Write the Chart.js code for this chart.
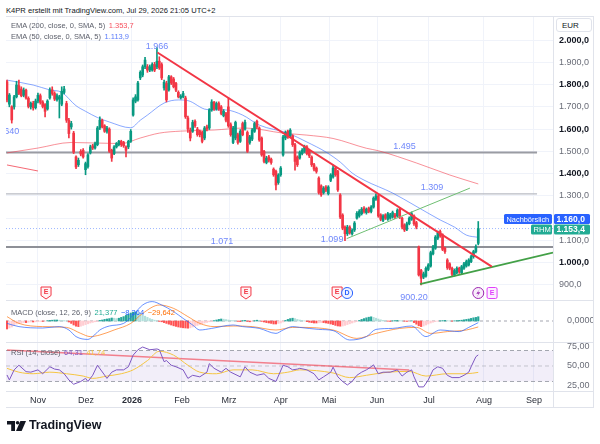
<!DOCTYPE html>
<html><head><meta charset="utf-8">
<script src="https://cdn.jsdelivr.net/npm/chart.js@4.4.1/dist/chart.umd.min.js"></script>
<style>
html,body{margin:0;padding:0;background:#fff;}
body{width:600px;height:444px;position:relative;overflow:hidden;font-family:"Liberation Sans",Arial,sans-serif;color:#131722;}
.a{position:absolute;white-space:nowrap;z-index:5;}
canvas{position:absolute;}
.ln{position:absolute;background:#e0e3eb;z-index:6;}
.lg{position:absolute;white-space:nowrap;z-index:5;font-size:7.5px;color:#5d606b;left:11px;}
.lg span{margin-left:3.5px;}
</style></head><body>
<div class="a" style="left:6px;top:6px;font-size:7.6px;color:#131722;">K4PR erstellt mit TradingView.com, Jul 29, 2026 21:05 UTC+2</div>
<canvas id="cMain" width="587" height="285" style="left:6px;top:16px;"></canvas>
<canvas id="cMacd" width="587" height="42" style="left:6px;top:301px;"></canvas>
<canvas id="cRsi" width="587" height="65" style="left:6px;top:343px;"></canvas>
<div class="ln" style="left:6px;top:16px;width:588px;height:1px;"></div>
<div class="ln" style="left:6px;top:407px;width:588px;height:1px;"></div>
<div class="ln" style="left:593px;top:16px;width:1px;height:392px;"></div>
<div class="ln" style="left:553px;top:16px;width:1px;height:392px;"></div>
<div class="ln" style="left:6px;top:300px;width:588px;height:1px;"></div>
<div class="ln" style="left:6px;top:342px;width:588px;height:1px;"></div>
<div class="ln" style="left:6px;top:391px;width:588px;height:1px;"></div>
<div class="a" style="left:556px;top:18px;height:14px;border:1px solid #e0e3eb;border-radius:3px;background:#fff;font-size:8px;line-height:14px;padding-left:5px;box-sizing:border-box;width:36px;">EUR</div>
<div class="lg" id="legE200" style="top:21px;"></div>
<div class="lg" id="legE50" style="top:31.5px;"></div>
<div class="lg" id="legMacd" style="top:307.5px;"></div>
<div class="lg" id="legRsi" style="top:348px;"></div>
<svg style="position:absolute;left:7px;top:421px" width="19" height="10" viewBox="0 0 19 10">
<path d="M0 0H8V10H4.2V3.4H0Z" fill="#131722"/>
<circle cx="10.6" cy="1.8" r="1.8" fill="#131722"/>
<path d="M13.4 0H19L14.6 10H9Z" fill="#131722"/>
</svg>
<div class="a" style="left:29px;top:418px;font-size:12.5px;font-weight:bold;color:#131722;letter-spacing:-0.1px;">TradingView</div>
<script>
// ---------------- DATA ----------------
const monthLabels=['Nov','Dez','2026','Feb','Mrz','Apr','Mai','Jun','Jul','Aug','Sep'];
const monthIdx=[13,33.2,52.5,73.5,93.3,115,135.3,155.5,177.3,200.4,221.4];
const priceTicks=[900,1000,1100,1200,1300,1400,1500,1600,1700,1800,1900,2000];

const opens=[
1813,1712,1700,1700,1745,1795,1780,1752,1775,1738,
1700,1716,1696,1726,1750,1722,1710,1690,1740,1776,
1760,1732,1735,1712,1765,1715,1640,1610,1582,1475,
1440,1500,1505,1418,1432,1493,1525,1515,1530,1605,
1640,1615,1590,1600,1505,1490,1520,1530,1545,1540,
1520,1520,1545,1663,1725,1731,1830,1843,1880,1880,
1865,1865,1890,1880,1905,1890,1785,1805,1776,1835,
1825,1805,1765,1740,1745,1740,1650,1596,1590,1635,
1600,1590,1585,1560,1610,1605,1686,1720,1690,1715,
1700,1660,1670,1700,1620,1540,1560,1575,1545,1625,
1600,1585,1540,1555,1590,1635,1605,1560,1500,1450,
1475,1465,1420,1410,1360,1395,1484,1560,1590,1570,
1570,1530,1475,1470,1490,1500,1520,1505,1475,1440,
1425,1380,1345,1315,1340,1310,1370,1385,1425,1410,
1304,1214,1160,1130,1160,1130,1147,1200,1210,1220,
1245,1225,1245,1230,1250,1285,1300,1215,1190,1215,
1195,1200,1205,1215,1210,1240,1200,1170,1150,1175,
1195,1210,1180,1070,965,935,940,970,985,1040,
1065,1110,1140,1125,1065,1012,995,975,945,955,
975,955,975,985,990,1005,1027,1050,1087];
const highs=[
1820,1760,1705,1752,1815,1820,1790,1785,1780,1745,
1722,1725,1735,1762,1758,1728,1715,1732,1785,1790,
1768,1758,1752,1790,1792,1725,1648,1635,1590,1480,
1470,1508,1512,1452,1490,1528,1532,1542,1612,1655,
1645,1620,1612,1606,1510,1526,1540,1550,1550,1545,
1525,1550,1598,1740,1755,1815,1862,1888,1922,1890,
1888,1898,1900,1966,1925,1898,1820,1815,1842,1840,
1832,1810,1772,1755,1770,1748,1658,1605,1640,1642,
1608,1596,1590,1612,1618,1692,1732,1725,1722,1722,
1706,1688,1675,1740,1628,1612,1636,1582,1598,1632,
1640,1592,1572,1602,1632,1640,1610,1565,1505,1478,
1482,1470,1426,1416,1400,1432,1572,1592,1596,1602,
1575,1536,1480,1502,1512,1528,1526,1510,1480,1446,
1430,1386,1350,1342,1346,1346,1400,1439,1430,1415,
1310,1220,1166,1168,1166,1152,1185,1230,1238,1248,
1252,1246,1250,1256,1296,1309,1305,1220,1216,1220,
1226,1222,1232,1222,1242,1246,1205,1175,1182,1206,
1228,1215,1186,1075,970,958,982,996,1052,1078,
1122,1142,1147,1130,1070,1018,1000,980,972,982,
980,988,1002,1012,1018,1034,1056,1080,1185];
const lows=[
1722,1700,1627,1690,1740,1755,1745,1745,1735,1695,
1690,1685,1690,1718,1712,1695,1655,1685,1735,1752,
1728,1725,1650,1705,1758,1630,1560,1600,1490,1422,
1432,1480,1470,1395,1425,1488,1508,1510,1525,1598,
1605,1585,1582,1495,1455,1485,1515,1525,1522,1518,
1475,1512,1540,1658,1718,1725,1822,1835,1872,1855,
1858,1860,1858,1872,1868,1822,1775,1722,1770,1800,
1785,1768,1740,1735,1740,1648,1585,1547,1585,1608,
1568,1565,1538,1552,1592,1598,1680,1684,1685,1684,
1664,1655,1632,1608,1568,1535,1552,1532,1540,1570,
1595,1495,1532,1548,1585,1602,1545,1478,1448,1444,
1452,1442,1388,1327,1352,1388,1478,1552,1558,1562,
1522,1416,1432,1465,1484,1495,1484,1472,1432,1412,
1402,1308,1298,1308,1318,1304,1364,1380,1388,1320,
1198,1148,1099,1122,1128,1124,1140,1195,1204,1214,
1222,1218,1224,1224,1245,1280,1204,1188,1184,1194,
1190,1195,1200,1198,1205,1198,1152,1140,1144,1170,
1190,1168,1152,940,900,928,935,964,980,1035,
1060,1104,1114,1054,1042,970,968,940,940,950,
952,950,970,980,985,1000,1020,1044,1080];
const closes=[
1731,1753,1641,1745,1798,1760,1750,1775,1740,1702,
1716,1696,1726,1752,1720,1702,1680,1726,1776,1760,
1735,1750,1745,1770,1780,1640,1580,1625,1497,1430,
1460,1488,1475,1445,1484,1520,1515,1535,1605,1641,
1610,1590,1605,1500,1470,1520,1535,1545,1530,1525,
1505,1545,1590,1731,1745,1807,1855,1880,1910,1865,
1880,1890,1865,1905,1875,1830,1810,1731,1835,1807,
1790,1775,1745,1748,1760,1655,1600,1560,1630,1615,
1575,1575,1545,1605,1600,1686,1722,1690,1715,1690,
1670,1680,1640,1615,1575,1605,1630,1540,1590,1575,
1630,1500,1565,1596,1625,1610,1551,1484,1455,1470,
1460,1450,1395,1349,1394,1425,1565,1585,1565,1595,
1530,1455,1440,1495,1505,1520,1490,1480,1440,1420,
1410,1315,1305,1335,1325,1340,1394,1425,1395,1327,
1205,1155,1130,1160,1135,1145,1178,1222,1230,1240,
1230,1240,1230,1250,1290,1300,1210,1195,1210,1200,
1220,1215,1225,1205,1235,1205,1160,1147,1175,1200,
1220,1175,1160,945,930,950,975,990,1045,1070,
1115,1135,1120,1060,1050,978,975,948,965,975,
960,982,995,1005,1012,1027,1050,1072,1153.4];
const afterHoursPrice=1160.0;

const ema50Idx=[0,11,18,23,29,33,38,43,52,56,59,66,72,76,84,92,99,106,118,126,134,140,145,150,162,171,177,182,188,193,198];
const ema50Val=[1820,1798,1776,1765,1705,1680,1652,1632,1606,1640,1663,1717,1731,1728,1688,1686,1663,1618,1582,1542,1497,1452,1403,1371,1313,1259,1222,1192,1160,1124,1113.9];
const ema200Idx=[0,13,27,48,56,64,73,87,100,116,126,137,151,156,172,186,198];
const ema200Val=[1493,1515,1540,1535,1560,1582,1591,1596,1605,1582,1573,1558,1514,1503,1448,1394,1353.7];

const levelPrices=[1495,1309,1071];
const redTrendIdx=[63.2,203.7], redTrendVal=[1944,982];
const greenTrendIdx=[173.5,229.4], greenTrendVal=[904,1045];
const thinGreenIdx=[142.7,194.5], thinGreenVal=[1108,1335];
const leftRedIdx=[0,13], leftRedVal=[1439,1412];

const annTexts=['1.966','1.495','1.309','1.071','1.099','900,20','640'];
const annIdx=[63,167,178.6,90.3,136.6,171,2];
const annPrice=[1969,1520,1336,1097,1106,845,1591];

const eventIdx=[16.4,100.4,138.7,142.9,198,203.8];
const eventType=['E','E','E','D','S','F'];

const hist=[-40,-35,-30,-22,
-15,-12,-10,-8,-8,-6,-5,-5,-4,-3,-2,-2,-1,
2,3,4,5,5,4,3,2,1,
-5,-12,-20,-26,-28,-26,-22,-18,-14,-10,-7,-4,-2,
3,5,8,10,12,15,14,12,14,18,22,28,34,40,
44,45,42,36,30,24,18,12,8,4,
1,-2,-4,-8,-12,-16,-20,-24,-27,-30,-32,-34,-35,-36,-34,-30,
-26,-22,-18,-14,-10,-7,-4,-2,2,5,
8,10,9,7,5,3,2,1,
-2,-3,2,3,-2,-4,-3,2,4,3,-2,-5,-8,-10,-12,-15,-15,-12,
-10,-5,3,8,12,14,12,8,
5,3,1,-3,-6,-8,-10,-10,
-9,-8,-8,-10,-12,-15,-18,-22,-25,-26,-25,-22,
-18,-14,-10,-6,-2,3,8,12,16,19,21,18,14,
10,6,3,1,-1,-2,1,2,3,2,1,-1,-2,-1,1,
-8,-16,-24,-28,-25,-20,-15,-10,-6,-3,-1,
1,2,3,2,1,-1,1,2,3,4,6,8,10,13,16,18,21.377];
const macdIdx=[0,5,15,22,26,29,34,36,39,43,49,53,57,61,65,70,74,78,81,86,95,99,106,113,116,120,123,131,137,144,151,155,162,170,176,182,190,194,198];
const macdVal=[-12,-28,-35,-28,-45,-78,-92,-78,-45,-25,-12,30,80,97,80,47,13,-20,-45,-37,-20,-28,-37,-62,-45,-28,-32,-42,-48,-95,-78,-42,-37,-25,-78,-45,-53,-32,-8.264];
const sigIdx=[0,5,15,25,31,35,39,45,52,57,64,70,76,81,87,95,103,113,120,123,137,147,155,165,172,178,185,193,198];
const sigVal=[22,-12,-28,-32,-62,-78,-70,-45,-12,38,80,63,22,-12,-28,-25,-28,-45,-32,-32,-45,-87,-62,-37,-32,-62,-53,-45,-29.642];

const rsiIdx=[0,1,3,5,8,10,13,15,18,20,22,24,26,28,31,33,34,36,38,42,44,46,49,51,53,55,57,60,63,64,66,67,69,71,74,76,78,81,84,85,87,90,92,94,98,100,102,105,108,110,113,116,118,120,122,123,126,129,131,133,136,137,139,141,143,145,147,149,151,153,154,156,158,161,164,166,168,170,171,173,175,177,179,181,183,185,187,190,192,194,195,197,198];
const rsiVal=[38.4,32,45,51,42.7,42,45,40,49,46,45,40,32,26.4,30,34,30,38,51,34,42,45,45,49,64,71,74.5,71,72,71,55.6,57,51,49,45,34,38,36,42,53,47,42,47,42,36,49,42,38,40,34,30,51,49,45,46,47,45,40,32,36,42,48.5,36,30,25.5,30,38,42,45,49,51.5,40,42,42,45,37,42,45,36,23,23,32,45,49,47,38,35,35,38,42,49,62,64.31];
const rsiMaIdx=[0,5,11,18,25,32,36,42,48,53,59,64,70,76,81,88,95,103,112,118,123,137,144,151,160,169,176,185,193,198];
const rsiMaVal=[47,42,40,42,40,37,34,37,40,45,57,69,64,51,42,40,45,45,40,42,45,41,35,38,42,43,37,40,40,41.74];
const rsiTrendIdx=[0,169], rsiTrendVal=[70.6,44.8];
const rsiLevels=[70,50,30];
const rsiTicks=[25,50,75];

// ---------------- STYLE / HELPERS ----------------
const FONT='"Liberation Sans", Arial, sans-serif';
const UP='#089981', DN='#f23645', TEAL='#22ab94', BLUE='#2962ff', LBL='#7088fb';
const X_MIN=-0.42, X_MAX=229.4, Y_MIN=828, Y_MAX=2108;
Chart.defaults.font.family=FONT;
Chart.defaults.animation=false;

function fmt(v,d){const s=Math.abs(v).toFixed(d).split('.');const n=s[0].replace(/\B(?=(\d{3})+(?!\d))/g,'.');return (v<0?'\u2212':'')+n+(d?','+s[1]:'');}
const pts=(xs,ys)=>xs.map((x,k)=>({x:x,y:ys[k]}));
function line(data,color,width,extra){return Object.assign({type:'line',data:data,borderColor:color,borderWidth:width,pointRadius:0,pointHoverRadius:0,fill:false,tension:0},extra||{});}
const candleIdx=closes.map((_,i)=>i);
const cCol=c=>closes[c.dataIndex]>=opens[c.dataIndex]?UP:DN;
const fitY=ax=>{ax.width=40;ax.paddingTop=0;ax.paddingBottom=0;};

function xAxis(show){
  return {type:'linear',min:X_MIN,max:X_MAX,offset:false,
    grid:{color:'#f0f3fa',drawTicks:false,offset:false},
    border:{display:false},
    ticks:{display:show,autoSkip:false,maxRotation:0,minRotation:0,padding:4,color:'#2a2e39',
      font:c=>({family:FONT,size:9,weight:(c.index===2)?'bold':'normal'}),
      callback:(v,i)=>monthLabels[i]},
    afterBuildTicks:ax=>{ax.ticks=monthIdx.map(v=>({value:v}));},
    afterFit:ax=>{ax.height=show?17:0;ax.paddingLeft=0;ax.paddingRight=0;}
  };
}
const baseOpts={responsive:false,maintainAspectRatio:false,animation:false,events:[],
  layout:{padding:0},plugins:{legend:{display:false},tooltip:{enabled:false}}};

// ---------------- MAIN overlay plugin ----------------
function rr(ctx,x,y,w,h,r){ctx.beginPath();ctx.moveTo(x+r,y);ctx.lineTo(x+w-r,y);ctx.quadraticCurveTo(x+w,y,x+w,y+r);ctx.lineTo(x+w,y+h-r);ctx.quadraticCurveTo(x+w,y+h,x+w-r,y+h);ctx.lineTo(x+r,y+h);ctx.quadraticCurveTo(x,y+h,x,y+h-r);ctx.lineTo(x,y+r);ctx.quadraticCurveTo(x,y,x+r,y);ctx.closePath();}
const mainOverlay={id:'mainOverlay',
  afterDatasetsDraw(chart){
    const {ctx,chartArea:a,scales:{x,y}}=chart;
    ctx.save();
    ctx.font='9px '+FONT;ctx.fillStyle=LBL;ctx.textAlign='center';ctx.textBaseline='middle';
    annTexts.forEach((t,k)=>ctx.fillText(t,x.getPixelForValue(annIdx[k]),y.getPixelForValue(annPrice[k])));
    const cy=a.bottom-8;
    eventIdx.forEach((v,k)=>{
      const cx=x.getPixelForValue(v);const t=eventType[k];
      ctx.lineWidth=1;
      if(t==='E'){
        ctx.beginPath();ctx.moveTo(cx-5,cy-6);ctx.lineTo(cx+5,cy-6);ctx.lineTo(cx+5,cy+2.5);ctx.lineTo(cx,cy+6);ctx.lineTo(cx-5,cy+2.5);ctx.closePath();
        ctx.fillStyle='#fff3f4';ctx.fill();ctx.strokeStyle=DN;ctx.stroke();
        ctx.fillStyle=DN;ctx.font='bold 7px '+FONT;ctx.fillText('E',cx,cy-1);
      }else if(t==='D'){
        ctx.beginPath();ctx.arc(cx,cy,5.5,0,Math.PI*2);ctx.fillStyle='#f0f3ff';ctx.fill();ctx.strokeStyle=BLUE;ctx.stroke();
        ctx.fillStyle=BLUE;ctx.font='bold 7px '+FONT;ctx.fillText('D',cx,cy+0.5);
      }else if(t==='S'){
        ctx.beginPath();ctx.arc(cx,cy,5.5,0,Math.PI*2);ctx.fillStyle='#f8eefa';ctx.fill();ctx.strokeStyle='#9c27b0';ctx.stroke();
        ctx.beginPath();ctx.moveTo(cx+1.5,cy-4);ctx.lineTo(cx-2,cy+0.8);ctx.lineTo(cx+0.3,cy+0.8);ctx.lineTo(cx-1.5,cy+4);ctx.lineTo(cx+2,cy-0.8);ctx.lineTo(cx-0.3,cy-0.8);ctx.closePath();
        ctx.fillStyle='#9c27b0';ctx.fill();
      }else{
        rr(ctx,cx-5,cy-5.5,10,11,1.5);ctx.fillStyle='#fcefff';ctx.fill();ctx.strokeStyle='#e040fb';ctx.stroke();
        ctx.fillStyle='#e040fb';ctx.font='bold 7px '+FONT;ctx.fillText('E',cx,cy+0.5);
      }
    });
    ctx.restore();
  },
  afterDraw(chart){
    const {ctx,chartArea:a,scales:{y}}=chart;
    const last=closes[closes.length-1];
    const yv=Math.round(y.getPixelForValue(last));
    const R=a.right;
    function box(x0,y0,w,h,col,txt,font){ctx.fillStyle=col;rr(ctx,x0,y0,w,h,1.5);ctx.fill();ctx.fillStyle='#fff';ctx.font=font;ctx.textAlign='left';ctx.textBaseline='middle';ctx.fillText(txt,x0+2.5,y0+h/2+0.5);}
    ctx.save();
    box(R-49,yv-15,48,10,BLUE,'Nachbörslich','7.4px '+FONT);
    box(R+1,yv-15,36,10,BLUE,fmt(afterHoursPrice,1),'bold 8.5px '+FONT);
    box(R-22,yv-4.5,21,10,TEAL,'RHM','7.6px '+FONT);
    box(R+1,yv-4.5,36,10,TEAL,fmt(last,1),'bold 8.5px '+FONT);
    ctx.restore();
  }
};

// ---------------- MAIN CHART ----------------
new Chart(document.getElementById('cMain'),{
  type:'bar',
  data:{datasets:[
    line(pts([X_MIN,222.7],[levelPrices[0],levelPrices[0]]),'#9a9ca3',2,{order:30}),
    line(pts([X_MIN,222.7],[levelPrices[1],levelPrices[1]]),'#b8bbc3',1.2,{order:30}),
    line(pts([X_MIN,X_MAX],[levelPrices[2],levelPrices[2]]),'#8e9097',2,{order:30}),
    line(pts([X_MIN,X_MAX],[closes[closes.length-1],closes[closes.length-1]]),'rgba(41,98,255,0.45)',1,{borderDash:[1,2],order:29}),
    line(pts(ema200Idx,ema200Val),'rgba(242,54,69,0.55)',1,{cubicInterpolationMode:'monotone',order:20}),
    line(pts(ema50Idx,ema50Val),'rgba(41,98,255,0.55)',1,{cubicInterpolationMode:'monotone',order:19}),
    line(pts(leftRedIdx,leftRedVal),'rgba(242,54,69,0.75)',1,{order:18}),
    {type:'bar',data:candleIdx.map(i=>({x:i,y:[lows[i],highs[i]]})),backgroundColor:cCol,barThickness:1,grouped:false,borderWidth:0,order:11},
    {type:'bar',data:candleIdx.map(i=>({x:i,y:[opens[i],closes[i]]})),backgroundColor:cCol,barThickness:2,minBarLength:1,grouped:false,borderWidth:0,order:10},
    line(pts(thinGreenIdx,thinGreenVal),'#6fbf73',1,{order:3}),
    line(pts(greenTrendIdx,greenTrendVal),'#43a047',1.8,{order:2}),
    line(pts(redTrendIdx,redTrendVal),'#f23645',2,{order:1})
  ]},
  options:Object.assign({},baseOpts,{
    scales:{
      x:xAxis(false),
      y:{type:'linear',position:'right',min:Y_MIN,max:Y_MAX,
        grid:{color:'#f0f3fa',drawTicks:false},border:{display:false},
        ticks:{padding:6,
          color:c=>(c.tick&&c.tick.value%200===0)?'#131722':'#6a6d78',
          font:c=>({family:FONT,size:9,weight:(c.tick&&c.tick.value%200===0)?'bold':'normal'}),
          callback:v=>fmt(v,1)},
        afterBuildTicks:ax=>{ax.ticks=priceTicks.map(v=>({value:v}));},
        afterFit:fitY}
    }
  }),
  plugins:[mainOverlay]
});

// ---------------- MACD ----------------
const histCol=c=>{const i=c.dataIndex,v=hist[i],p=i>0?hist[i-1]:v;
  if(v>=0) return v>=p?'#26a69a':'#b2dfdb'; return v<=p?'#ff5252':'#ffcdd2';};
new Chart(document.getElementById('cMacd'),{
  type:'bar',
  data:{datasets:[
    line(pts([X_MIN,X_MAX],[0,0]),'#a3a6af',1,{borderDash:[3,3],order:20}),
    {type:'bar',data:candleIdx.map(i=>({x:i,y:hist[i]})),backgroundColor:histCol,barThickness:1.5,grouped:false,borderWidth:0,order:10},
    line(pts(sigIdx,sigVal),'rgba(255,109,0,0.65)',1,{cubicInterpolationMode:'monotone',order:2}),
    line(pts(macdIdx,macdVal),'rgba(41,98,255,0.7)',1,{cubicInterpolationMode:'monotone',order:1})
  ]},
  options:Object.assign({},baseOpts,{
    scales:{
      x:xAxis(false),
      y:{type:'linear',position:'right',min:-110,max:100,grid:{display:false},border:{display:false},
        ticks:{padding:6,color:'#6a6d78',font:{family:FONT,size:9},callback:v=>'0,0000'},
        afterBuildTicks:ax=>{ax.ticks=[{value:0}];},
        afterFit:fitY}
    }
  })
});

// ---------------- RSI ----------------
const rsiBand={id:'rsiBand',beforeDatasetsDraw(chart){const {ctx,chartArea:a,scales:{y}}=chart;ctx.save();ctx.fillStyle='rgba(126,87,194,0.1)';const t=y.getPixelForValue(rsiLevels[0]),b=y.getPixelForValue(rsiLevels[2]);ctx.fillRect(a.left,t,a.right-a.left,b-t);ctx.restore();}};
new Chart(document.getElementById('cRsi'),{
  type:'line',
  data:{datasets:[
    line(pts([X_MIN,X_MAX],[rsiLevels[0],rsiLevels[0]]),'#a3a6af',1,{borderDash:[4,3],order:20}),
    line(pts([X_MIN,X_MAX],[rsiLevels[1],rsiLevels[1]]),'rgba(163,166,175,0.6)',1,{borderDash:[4,3],order:20}),
    line(pts([X_MIN,X_MAX],[rsiLevels[2],rsiLevels[2]]),'#a3a6af',1,{borderDash:[4,3],order:20}),
    line(pts(rsiTrendIdx,rsiTrendVal),'rgba(242,54,69,0.6)',1.5,{order:5}),
    line(pts(rsiMaIdx,rsiMaVal),'#f5c542',1,{cubicInterpolationMode:'monotone',order:3}),
    line(pts(rsiIdx,rsiVal),'#7e57c2',1,{order:1})
  ]},
  options:Object.assign({},baseOpts,{
    scales:{
      x:xAxis(true),
      y:{type:'linear',position:'right',min:17.7,max:79.7,grid:{display:false},border:{display:false},
        ticks:{padding:6,color:'#6a6d78',font:{family:FONT,size:9},callback:v=>fmt(v,2)},
        afterBuildTicks:ax=>{ax.ticks=rsiTicks.map(v=>({value:v}));},
        afterFit:fitY}
    }
  }),
  plugins:[rsiBand]
});

// ---------------- Legends ----------------
document.getElementById('legE200').innerHTML='EMA (200, close, 0, SMA, 5)<span style="color:#f7525f">'+fmt(ema200Val[ema200Val.length-1],1)+'</span>';
document.getElementById('legE50').innerHTML='EMA (50, close, 0, SMA, 5)<span style="color:#5b7cfa">'+fmt(ema50Val[ema50Val.length-1],1)+'</span>';
document.getElementById('legMacd').innerHTML='MACD (close, 12, 26, 9)<span style="color:#22ab94">'+fmt(hist[hist.length-1],3)+'</span><span style="color:#2962ff">'+fmt(macdVal[macdVal.length-1],3)+'</span><span style="color:#ff6d00">'+fmt(sigVal[sigVal.length-1],3)+'</span>';
document.getElementById('legRsi').innerHTML='RSI (14, close)<span style="color:#7e57c2">'+fmt(rsiVal[rsiVal.length-1],2)+'</span><span style="color:#f5c542">'+fmt(rsiMaVal[rsiMaVal.length-1],2)+'</span>';
</script>
</body></html>
